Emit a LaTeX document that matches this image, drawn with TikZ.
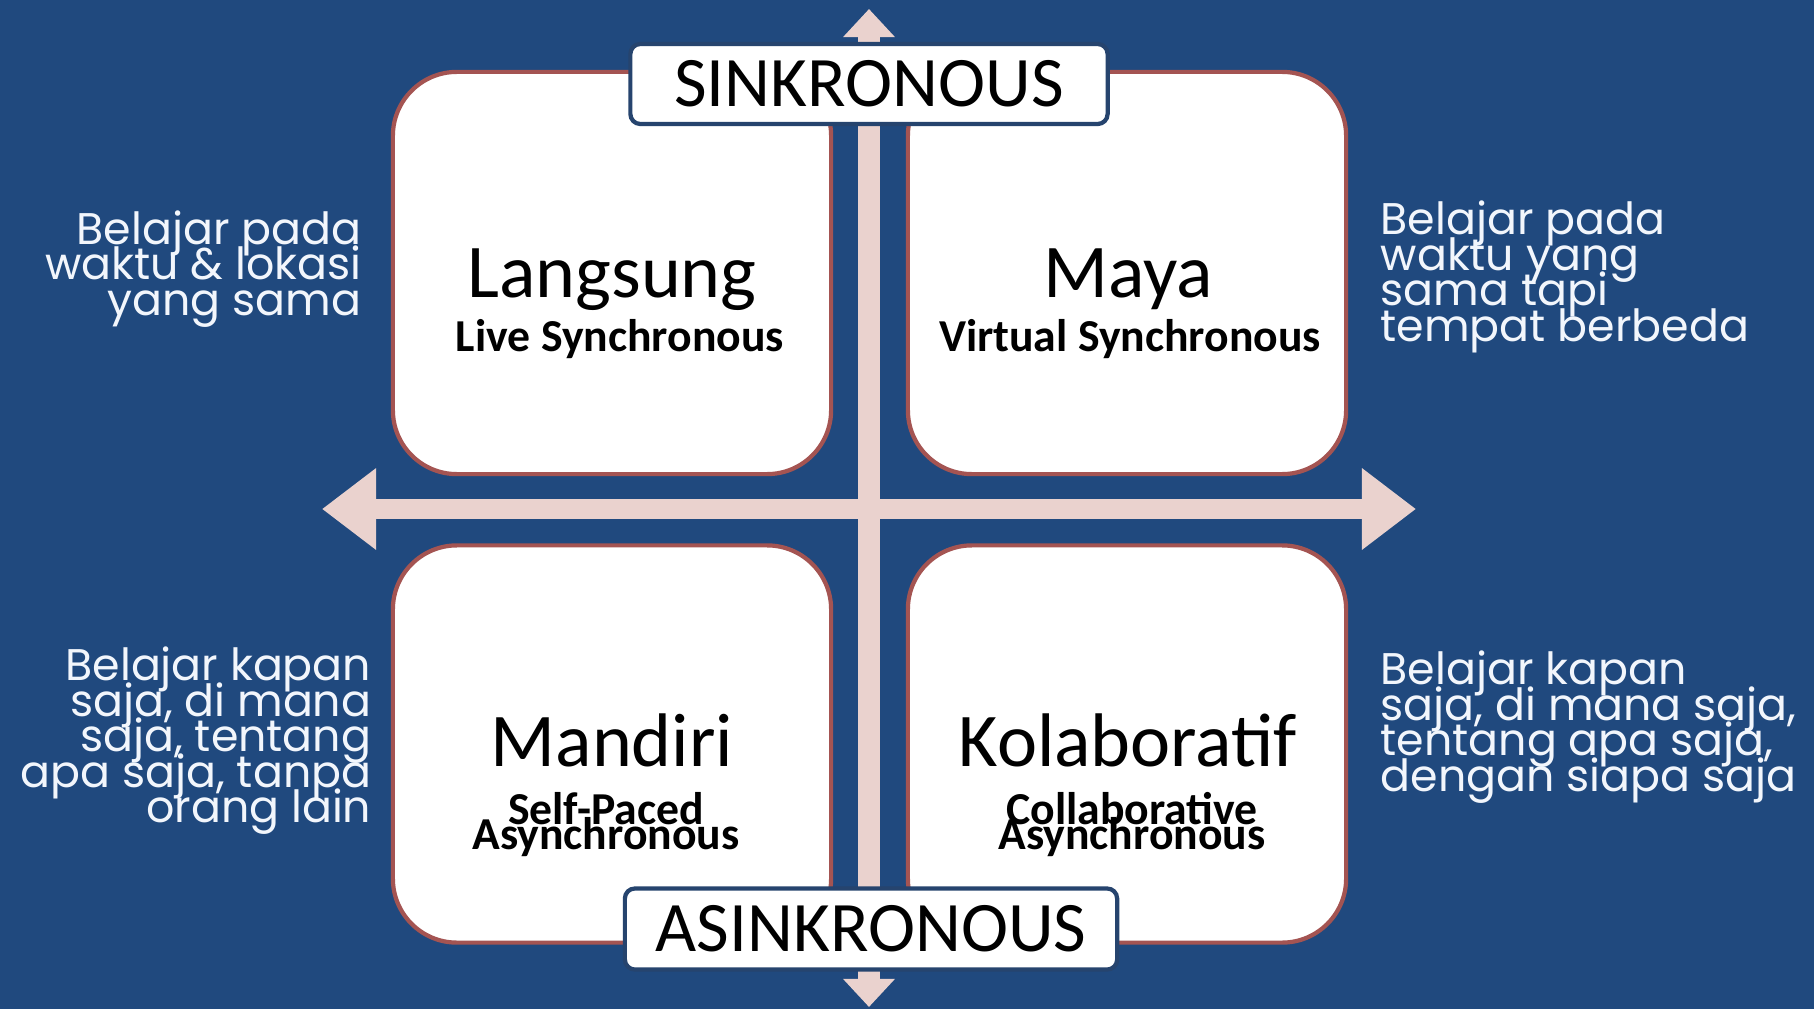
\documentclass[tikz,border=0pt]{standalone}
\usepackage{fontspec}
\setmainfont{Carlito}
\newfontfamily\poppins{Poppins}
\usetikzlibrary{arrows.meta,positioning}
\definecolor{bgblue}{RGB}{32,73,126}
\definecolor{axispink}{RGB}{234,210,206}
\definecolor{quadred}{RGB}{164,84,82}
\definecolor{labelblue}{RGB}{38,68,110}
\definecolor{sidewhite}{RGB}{242,246,252}
\newcommand\subfont{\bfseries\fontsize{13}{6.9}\selectfont\lineskiplimit=-20pt\relax}
\newcommand\descfont{\poppins\fontsize{12.6}{10.1}\selectfont\lineskiplimit=-20pt\relax}
\tikzset{
	quad/.style={draw=quadred, line width=1.2pt, fill=white, rounded corners=0.64cm,
			minimum width=4.38cm, inner sep=0pt},
	heading/.style={anchor=base, inner sep=0pt, font=\fontsize{21.6}{24}\selectfont},
	subheading/.style={anchor=base, inner sep=0pt, align=center, font=\subfont},
	tag/.style={draw=labelblue, line width=1.2pt, fill=white, rounded corners=0.1cm,
			minimum height=0.8cm, inner sep=0pt, font=\fontsize{20.2}{22}\selectfont},
	side/.style={inner sep=0pt, text=sidewhite, font=\descfont},
	haxis/.style={draw=axispink, line width=0.2cm,
			{Triangle[length=0.54cm,width=0.78cm]}-{Triangle[length=0.54cm,width=0.78cm]}},
	vaxis/.style={draw=axispink, line width=0.22cm,
			{Triangle[length=0.28cm,width=0.5cm]}-{Triangle[length=0.28cm,width=0.5cm]}}
}

\begin{document}
\begin{tikzpicture}[x=0.01cm,y=-0.01cm]
% Background
\fill[bgblue] (0,0) rectangle (1814,1009);
\useasboundingbox (0,0) rectangle (1814,1009);
% Axes
\coordinate (west) at (322,509);
\coordinate (east) at (1416,509);
\coordinate (north) at (869,9);
\coordinate (south) at (869,1007);
\draw[haxis] (west) -- (east);
\draw[vaxis] (north) -- (south);
% Quadrants
\node[quad, minimum height=4.02cm] (live) at (612,273) {};
\node[quad, minimum height=4.02cm] (virtual) at (1127,273) {};
\node[quad, minimum height=3.97cm] (selfpaced) at (612,744) {};
\node[quad, minimum height=3.97cm] (collab) at (1127,744) {};
% Quadrant titles
\node[heading] (langsung) at (612,297) {Langsung};
\node[subheading] (livesync) at (620,351) {Live Synchronous};
\node[heading] (maya) at (1128,297) {Maya};
\node[subheading] (virtsync) at (1130,351) {Virtual Synchronous};
\node[heading] (mandiri) at (612,766) {Mandiri};
\node[subheading] (selfasync) at (606,849) {Self-Paced\\Asynchronous};
\node[heading] (kolaboratif) at (1128,766) {Kolaboratif};
\node[subheading] (collabasync) at (1132,849) {Collaborative\\Asynchronous};
% Axis labels
\node[tag, minimum width=4.77cm] (sinkron) at (869,84) {SINKRONOUS};
\node[tag, minimum width=4.92cm, minimum height=0.81cm] (asinkron) at (871,929) {ASINKRONOUS};
% Descriptions
\node[side, anchor=east, align=right] (descLive) at (362,269)
	{Belajar pada\\waktu \& lokasi\\yang sama};
\node[side, anchor=west, align=left] (descVirtual) at (1380,277)
	{Belajar pada\\waktu yang\\sama tapi\\tempat berbeda};
\node[side, anchor=east, align=right] (descSelf) at (372,741)
	{Belajar kapan\\saja, di mana\\saja, tentang\\apa saja, tanpa\\orang lain};
\node[side, anchor=west, align=left] (descCollab) at (1380,727)
	{Belajar kapan\\saja, di mana saja,\\tentang apa saja,\\dengan siapa saja};
\end{tikzpicture}
\end{document}
